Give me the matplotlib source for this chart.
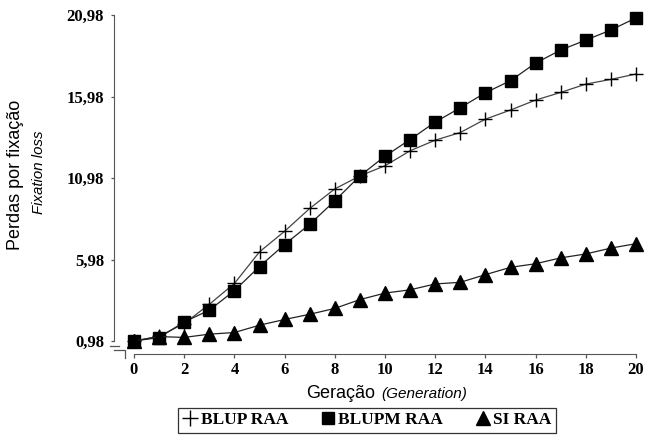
import numpy as np
import matplotlib
matplotlib.use("Agg")
import matplotlib.pyplot as plt
from matplotlib.lines import Line2D

# data
generation = list(range(0, 21))
blup_raa = [0.98, 1.27, 2.05, 3.23, 4.51, 6.45, 7.71, 9.11, 10.31, 11.11, 11.73,
            12.65, 13.30, 13.77, 14.59, 15.15, 15.76, 16.23, 16.74, 17.03, 17.36]
blupm_raa = [0.98, 1.19, 2.15, 2.87, 4.07, 5.55, 6.90, 8.14, 9.58, 11.11, 12.32,
             13.34, 14.41, 15.29, 16.21, 16.95, 18.03, 18.83, 19.44, 20.06, 20.80]
si_raa = [0.98, 1.25, 1.20, 1.40, 1.50, 1.95, 2.30, 2.62, 2.98, 3.52, 3.92,
          4.12, 4.48, 4.58, 5.05, 5.50, 5.72, 6.08, 6.32, 6.68, 6.95]
ytick_vals = [0.98, 5.98, 10.98, 15.98, 20.98]
ytick_labels = ["0,98", "5,98", "10,98", "15,98", "20,98"]
xtick_vals = list(range(0, 21, 2))

W, H = 649, 441
PT = 0.72  # points per pixel at dpi 100
fig = plt.figure(figsize=(W / 100, H / 100), dpi=100)

def px(x, y):
    return (x / W, 1 - y / H)

# axes box: x=0 at 134px, x=20 at 636px; y=0.98 at 341px, y=20.98 at 15px
ax = fig.add_axes([134 / W, 1 - 341 / H, (636 - 134) / W, (341 - 15) / H])
ax.set_xlim(0, 20)
ax.set_ylim(0.98, 20.98)

ax.plot(generation, blup_raa, color="#444444", lw=0.9, marker="+", ms=10.5, mew=1.0,
        mec="black", label="BLUP RAA", clip_on=False)
ax.plot(generation, blupm_raa, color="#222222", lw=0.9, marker="s", ms=8.5,
        mfc="black", mec="black", label="BLUPM RAA", clip_on=False)
ax.plot(generation, si_raa, color="#222222", lw=0.9, marker="^", ms=10.5,
        mfc="black", mec="black", label="SI RAA", clip_on=False)

for s in ["top", "right"]:
    ax.spines[s].set_visible(False)
ax.spines["left"].set_position(("outward", 20 * PT))
ax.spines["bottom"].set_position(("outward", 13 * PT))
ax.spines["left"].set_color("#555555")
ax.spines["bottom"].set_color("#555555")

tfont = dict(family="Liberation Serif", weight="bold", size=12)
ax.set_yticks(ytick_vals)
ax.set_yticklabels(ytick_labels, fontdict=tfont)
ax.set_xticks(xtick_vals)
ax.set_xticklabels([str(v) for v in xtick_vals], fontdict=tfont)
ax.tick_params(axis="y", direction="out", length=3 * PT, width=0.9, color="#555555", pad=7 * PT)
ax.tick_params(axis="x", direction="out", length=4 * PT, width=0.9, color="#555555", pad=4 * PT)

# axis break marks at bottom-left
brk = [[(110, 345.5), (119, 345.5)],
       [(114, 349.5), (125, 349.5), (125, 358)]]
for seg in brk:
    xs = [px(*p)[0] for p in seg]
    ys = [px(*p)[1] for p in seg]
    fig.add_artist(Line2D(xs, ys, color="#555555", lw=0.9, transform=fig.transFigure))

# axis titles
fig.text(*px(16, 175), "Perdas por fixação", rotation=90, ha="center", va="center",
         family="Liberation Sans", fontsize=13)
fig.text(*px(39, 172), "Fixation loss", rotation=90, ha="center", va="center",
         family="Liberation Sans", style="italic", fontsize=10.8)
fig.text(*px(375, 393), "Geração", ha="right", va="center",
         family="Liberation Sans", fontsize=13)
fig.text(*px(381, 394), "(Generation)", ha="left", va="center",
         family="Liberation Sans", style="italic", fontsize=11)

handles = [Line2D([], [], ls="none", marker="+", ms=11, mew=1.0, color="black"),
           Line2D([], [], ls="none", marker="s", ms=8, color="black"),
           Line2D([], [], ls="none", marker="^", ms=10, color="black")]
x0, y0 = px(178, 436)
x1, y1 = px(556, 408)
leg = fig.legend(handles, ["BLUP RAA", "BLUPM RAA", "SI RAA"], ncol=3,
                 loc="upper left", bbox_to_anchor=(x0, y0, x1 - x0, y1 - y0),
                 mode="expand", frameon=True, fancybox=False,
                 prop=dict(family="Liberation Serif", weight="bold", size=12.5),
                 handlelength=0.9, handletextpad=0.15, columnspacing=1.0,
                 borderpad=0.25, borderaxespad=0)
leg.get_frame().set_edgecolor("black")
leg.get_frame().set_linewidth(0.9)

fig.savefig("out.png", dpi=100)
